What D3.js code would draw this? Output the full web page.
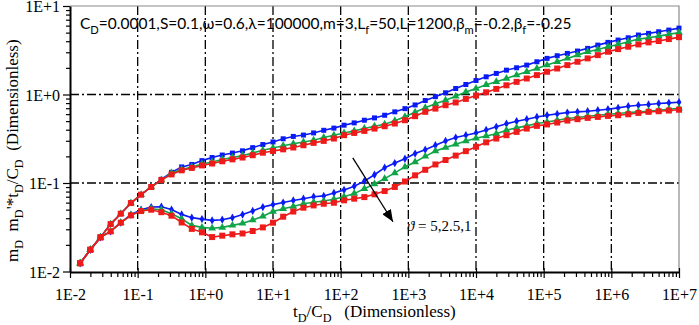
<!DOCTYPE html>
<html>
<head>
<meta charset="utf-8">
<script src="https://cdn.jsdelivr.net/npm/d3@7"></script>
<style>
html, body { margin: 0; padding: 0; background: #fff; }
svg { display: block; }
</style>
</head>
<body>
<div id="chart" style="width:699px;height:325px"></div>
<script>

// t_D/C_D sample points (one marker each)
var tdcd = [0.01413, 0.01995, 0.02818, 0.03981, 0.05623, 0.07943, 0.1122, 0.1585, 0.2239, 0.3162,
    0.4467, 0.631, 0.8913, 1.259, 1.778, 2.512, 3.548, 5.012, 7.079, 10,
    14.13, 19.95, 28.18, 39.81, 56.23, 79.43, 112.2, 158.5, 223.9, 316.2,
    446.7, 631, 891.3, 1259, 1778, 2512, 3548, 5012, 7079, 10000,
    14130, 19950, 28180, 39810, 56230, 79430, 112200, 158500, 223900, 316200,
    446700, 631000, 891300, 1259000, 1778000, 2512000, 3548000, 5012000, 7079000, 10000000];

// pressure m_D  (theta = 5, 2.5, 1)
var pBlue = [0.0124, 0.0176, 0.0243, 0.0343, 0.0450, 0.0593, 0.0738, 0.0902, 0.110, 0.132,
    0.152, 0.162, 0.179, 0.194, 0.207, 0.218, 0.231, 0.251, 0.272, 0.291,
    0.316, 0.336, 0.348, 0.368, 0.394, 0.417, 0.450, 0.478, 0.512, 0.544,
    0.583, 0.637, 0.692, 0.762, 0.855, 0.946, 1.045, 1.169, 1.297, 1.439,
    1.585, 1.730, 1.884, 2.004, 2.148, 2.344, 2.559, 2.742, 2.911, 3.097,
    3.319, 3.614, 3.881, 4.121, 4.375, 4.699, 4.909, 5.117, 5.346, 5.623];
var pGreen = [0.0124, 0.0176, 0.0243, 0.0343, 0.0450, 0.0593, 0.0738, 0.0902, 0.108, 0.130,
    0.142, 0.152, 0.164, 0.173, 0.184, 0.194, 0.204, 0.218, 0.234, 0.249,
    0.263, 0.278, 0.291, 0.304, 0.326, 0.347, 0.368, 0.388, 0.412, 0.438,
    0.461, 0.504, 0.562, 0.631, 0.708, 0.787, 0.863, 0.955, 1.067, 1.169,
    1.288, 1.390, 1.517, 1.656, 1.807, 1.968, 2.148, 2.344, 2.559, 2.786,
    3.041, 3.228, 3.467, 3.681, 3.945, 4.227, 4.375, 4.571, 4.775, 5.012];
var pRed = [0.0124, 0.0176, 0.0243, 0.0343, 0.0450, 0.0593, 0.0738, 0.0902, 0.108, 0.125,
    0.139, 0.148, 0.158, 0.166, 0.176, 0.185, 0.194, 0.206, 0.220, 0.230,
    0.240, 0.252, 0.267, 0.284, 0.299, 0.318, 0.347, 0.368, 0.388, 0.412,
    0.438, 0.470, 0.512, 0.569, 0.637, 0.693, 0.757, 0.813, 0.891, 0.973,
    1.059, 1.156, 1.271, 1.390, 1.517, 1.656, 1.807, 1.968, 2.148, 2.344,
    2.559, 2.786, 3.041, 3.258, 3.467, 3.681, 3.881, 4.018, 4.227, 4.446];

// derivative m_D'*t_D/C_D
var dBlue = [0.0124, 0.0176, 0.0243, 0.0284, 0.0356, 0.0438, 0.0499, 0.0535, 0.0540, 0.0501,
    0.0442, 0.0406, 0.0391, 0.0378, 0.0385, 0.0406, 0.0440, 0.0484, 0.0535, 0.0570,
    0.0601, 0.0635, 0.0664, 0.0700, 0.0715, 0.0773, 0.0836, 0.0920, 0.105, 0.124,
    0.149, 0.168, 0.188, 0.215, 0.238, 0.267, 0.299, 0.326, 0.347, 0.368,
    0.398, 0.431, 0.468, 0.499, 0.526, 0.558, 0.583, 0.604, 0.625, 0.637,
    0.647, 0.665, 0.682, 0.706, 0.738, 0.757, 0.771, 0.791, 0.805, 0.819];
var dGreen = [0.0124, 0.0176, 0.0243, 0.0284, 0.0356, 0.0431, 0.0490, 0.0512, 0.0499, 0.0450,
    0.0394, 0.0332, 0.0315, 0.0308, 0.0315, 0.0332, 0.0350, 0.0381, 0.0421, 0.0476,
    0.0511, 0.0543, 0.0583, 0.0605, 0.0625, 0.0656, 0.0700, 0.0759, 0.0861, 0.0977,
    0.112, 0.130, 0.152, 0.173, 0.200, 0.230, 0.251, 0.274, 0.299, 0.320,
    0.339, 0.361, 0.394, 0.420, 0.442, 0.470, 0.490, 0.512, 0.535, 0.550,
    0.569, 0.583, 0.598, 0.610, 0.625, 0.637, 0.647, 0.665, 0.682, 0.700];
var dRed = [0.0124, 0.0176, 0.0243, 0.0284, 0.0356, 0.0431, 0.0482, 0.0499, 0.0468, 0.0427,
    0.0358, 0.0303, 0.0277, 0.0245, 0.0254, 0.0263, 0.0269, 0.0287, 0.0315, 0.0356,
    0.0416, 0.0476, 0.0526, 0.0558, 0.0583, 0.0598, 0.0637, 0.0665, 0.0693, 0.0745,
    0.0811, 0.0902, 0.104, 0.122, 0.141, 0.162, 0.182, 0.204, 0.229, 0.257,
    0.288, 0.318, 0.347, 0.378, 0.412, 0.442, 0.459, 0.482, 0.508, 0.526,
    0.544, 0.558, 0.573, 0.583, 0.598, 0.619, 0.637, 0.647, 0.659, 0.673];

var xTicks = [1e-2, 1e-1, 1e0, 1e1, 1e2, 1e3, 1e4, 1e5, 1e6, 1e7];
var xTickLabels = ['1E-2', '1E-1', '1E+0', '1E+1', '1E+2', '1E+3', '1E+4', '1E+5', '1E+6', '1E+7'];
var yTicks = [1e-2, 1e-1, 1e0, 1e1];
var yTickLabels = ['1E-2', '1E-1', '1E+0', '1E+1'];

// arrow (start, tip) and its label, in data units
var arrowX = [151, 593];
var arrowY = [0.192, 0.0365];
var thetaPos = [955, 0.0284];

// text with subscripts; parts = [string, isSub]
function addRich(text, parts, fs) {
    var shift = 0, sub = fs * 0.3;
    text.selectAll('tspan').remove();
    parts.forEach(function (p) {
        var ts = text.append('tspan').text(p[0]);
        var want = p[1] ? sub : 0;
        if (want !== shift) ts.attr('dy', want - shift);
        if (p[1]) ts.style('font-size', (fs * 0.72) + 'px');
        shift = want;
    });
}

function drawChart(divname) {
    var svgWidth = 699, svgHeight = 325;
    var svg = d3.select('#' + divname)
        .append('svg')
        .attr('width', svgWidth)
        .attr('height', svgHeight)
        .style('background', '#fff');

    var margin = {top: 6, left: 70};
    var plotW = 609, plotH = 266;

    var xScale = d3.scaleLog().domain([1e-2, 1e7]).range([0, plotW]);
    var yScale = d3.scaleLog().domain([1e-2, 1e1]).range([plotH - 0.5, 0]);

    var g = svg.append('g')
        .attr('transform', 'translate(' + margin.left + ',' + margin.top + ')');

    // dash-dot grid
    g.append('g').selectAll('line')
        .data(xTicks.slice(1, -1))
        .enter()
        .append('line')
        .attr('x1', function (d) { return xScale(d); })
        .attr('x2', function (d) { return xScale(d); })
        .attr('y1', 0)
        .attr('y2', plotH)
        .style('stroke', '#000')
        .style('stroke-width', 1.3)
        .style('stroke-dasharray', '9,3,2,3');
    g.append('g').selectAll('line')
        .data(yTicks.slice(1, -1))
        .enter()
        .append('line')
        .attr('x1', 0)
        .attr('x2', plotW)
        .attr('y1', function (d) { return yScale(d); })
        .attr('y2', function (d) { return yScale(d); })
        .style('stroke', '#000')
        .style('stroke-width', 1.3)
        .style('stroke-dasharray', '9,3,2,3');

    // top/right frame
    g.append('path')
        .attr('d', 'M0,0H' + plotW + 'V' + plotH)
        .style('fill', 'none')
        .style('stroke', '#8a8a8a')
        .style('stroke-width', 1.2);

    function logTicks(lo, hi) {
        var out = [];
        for (var e = lo; e < hi; e++) {
            for (var k = 1; k < 10; k++) out.push(k * Math.pow(10, e));
        }
        out.push(Math.pow(10, hi));
        return out;
    }
    function isMajor(d) {
        var l = Math.log10(d);
        return Math.abs(l - Math.round(l)) < 1e-9;
    }
    function majorLabel(list, labels) {
        return function (d) {
            if (!isMajor(d)) return '';
            var e = Math.round(Math.log10(d));
            for (var i = 0; i < list.length; i++) {
                if (Math.round(Math.log10(list[i])) === e) return labels[i];
            }
            return '';
        };
    }

    var gx = g.append('g')
        .attr('transform', 'translate(0,' + plotH + ')');
    var xAxis = d3.axisBottom(xScale)
        .tickValues(logTicks(-2, 7))
        .tickSize(5)
        .tickSizeOuter(0)
        .tickPadding(12)
        .tickFormat(majorLabel(xTicks, xTickLabels));
    xAxis(gx);
    gx.selectAll('.tick line')
        .attr('y1', function (d) { return isMajor(d) ? -4 : 0; })
        .attr('y2', function (d) { return isMajor(d) ? 6 : 5; })
        .style('stroke-width', 1.2);

    var gy = g.append('g');
    var yAxis = d3.axisLeft(yScale)
        .tickValues(logTicks(-2, 1))
        .tickSize(4)
        .tickSizeOuter(0)
        .tickPadding(6)
        .tickFormat(majorLabel(yTicks, yTickLabels));
    yAxis(gy);
    gy.selectAll('.tick line')
        .attr('x2', function (d) { return isMajor(d) ? -7 : -4; })
        .style('stroke-width', 1.2);
    gy.selectAll('.tick text').attr('dy', '0.36em');

    [gx, gy].forEach(function (ax) {
        ax.select('.domain').style('stroke-width', 2);
        ax.selectAll('text')
            .style('font-family', '"Liberation Serif", "Times New Roman", serif')
            .style('font-size', '16px')
            .style('fill', '#000');
    });

    // curves
    var colBlue = '#0a1af5', colGreen = '#10a448', colRed = '#ee1b1b';
    var series = [
        {y: pBlue, color: colBlue, sym: d3.symbolSquare, size: 25},
        {y: dBlue, color: colBlue, sym: d3.symbolDiamond, size: 20},
        {y: pGreen, color: colGreen, sym: d3.symbolTriangle, size: 26},
        {y: dGreen, color: colGreen, sym: d3.symbolTriangle, size: 26},
        {y: pRed, color: colRed, sym: d3.symbolSquare, size: 36},
        {y: dRed, color: colRed, sym: d3.symbolSquare, size: 36}
    ];

    var line = d3.line()
        .x(function (d) { return xScale(d[0]); })
        .y(function (d) { return yScale(d[1]); });

    series.forEach(function (s) {
        var dataset = d3.zip(tdcd, s.y);
        var gs = g.append('g');
        gs.append('path')
            .attr('d', line(dataset))
            .style('stroke', s.color)
            .style('stroke-width', 1.6)
            .style('fill', 'none');
        gs.selectAll('path.pt')
            .data(dataset)
            .enter()
            .append('path')
            .attr('class', 'pt')
            .attr('transform', function (d) {
                return 'translate(' + xScale(d[0]) + ',' + yScale(d[1]) + ')';
            })
            .attr('d', d3.symbol().type(s.sym).size(s.size))
            .style('fill', s.color);
    });

    // arrow
    svg.append('defs').append('marker')
        .attr('id', 'arrowhead')
        .attr('markerUnits', 'userSpaceOnUse')
        .attr('markerWidth', 13)
        .attr('markerHeight', 10)
        .attr('refX', 12)
        .attr('refY', 5)
        .attr('orient', 'auto')
        .append('path')
        .attr('d', 'M0,0L12,5L0,10Z')
        .style('fill', '#000');
    g.append('line')
        .attr('x1', xScale(arrowX[0]))
        .attr('y1', yScale(arrowY[0]))
        .attr('x2', xScale(arrowX[1]))
        .attr('y2', yScale(arrowY[1]))
        .style('stroke', '#000')
        .style('stroke-width', 1.3)
        .attr('marker-end', 'url(#arrowhead)');

    var th = g.append('text')
        .attr('x', xScale(thetaPos[0]))
        .attr('y', yScale(thetaPos[1]))
        .style('font-family', '"Liberation Serif", "DejaVu Serif", serif')
        .style('font-size', '15px')
        .style('fill', '#000');
    th.append('tspan').text('\u03D1').style('font-style', 'italic');
    th.append('tspan').text(' = 5,2.5,1');

    // parameters line, sized to span the same width as the reference
    var parParts = [['C', false], ['D', true], ['=0.0001,S=0.1,\u03C9=0.6,\u03BB=100000,m=3,L', false],
        ['f', true], ['=50,L=1200,\u03B2', false], ['m', true], ['=-0.2,\u03B2', false], ['f', true], ['=-0.25', false]];
    var par = g.append('text')
        .attr('x', 10)
        .attr('y', 23)
        .style('font-family', 'Lato, "Open Sans", sans-serif')
        .style('fill', '#000');
    par.style('font-size', '15px');
    addRich(par, parParts, 15);
    var fsPar = 15 * 492 / par.node().getComputedTextLength();
    par.style('font-size', fsPar + 'px');
    addRich(par, parParts, fsPar);

    // axis titles
    var xt = svg.append('text')
        .attr('x', 293)
        .attr('y', 317)
        .style('font-family', '"Liberation Serif", "Times New Roman", serif')
        .style('font-size', '17px')
        .style('white-space', 'pre')
        .style('fill', '#000');
    addRich(xt, [['t', false], ['D', true], ['/C', false], ['D', true], ['   (Dimensionless)', false]], 17);

    var yt = svg.append('text')
        .attr('transform', 'translate(18,262) rotate(-90)')
        .style('font-family', '"Liberation Serif", "Times New Roman", serif')
        .style('font-size', '17px')
        .style('white-space', 'pre')
        .style('fill', '#000');
    addRich(yt, [['m', false], ['D', true], ['  m', false], ['D', true], ['\'*t', false], ['D', true],
        ['/C', false], ['D', true], ['  (Dimensionless)', false]], 17);
}

drawChart('chart');
</script>
</body>
</html>
